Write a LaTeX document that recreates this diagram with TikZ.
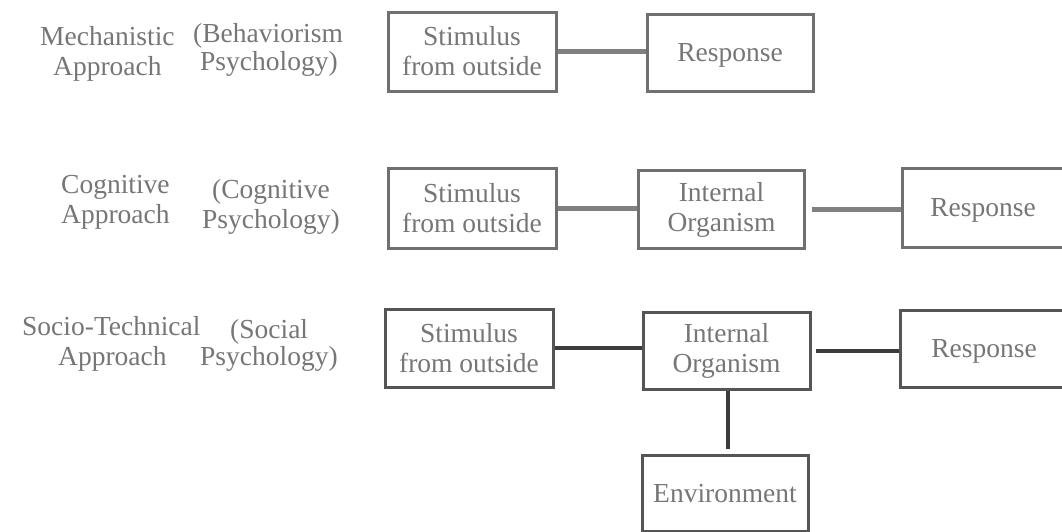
\documentclass[tikz,border=0pt]{standalone}
\usepackage{fontspec}
\setmainfont{Liberation Serif}
\definecolor{txtgray}{RGB}{118,118,118}
\definecolor{boxgray}{RGB}{112,112,112}
\definecolor{linkgray}{RGB}{128,128,128}
\definecolor{boxdark}{RGB}{85,85,85}
\definecolor{linkdark}{RGB}{60,60,60}
\begin{document}
\begin{tikzpicture}[x=1pt,y=-1pt,
  every node/.style={font=\fontsize{27.5}{30}\selectfont, text=txtgray},
  box/.style={draw=boxgray, line width=3pt, inner sep=0pt, align=center},
  darkbox/.style={box, draw=boxdark},
  oneline/.style={text height=18pt, text depth=0pt},
  link/.style={draw=linkgray, line width=5pt},
  darklink/.style={draw=linkdark, line width=4pt},
  lefttext/.style={anchor=base west, inner sep=0pt}]
\useasboundingbox (0,0) rectangle (1062,531);
\clip (0,0) rectangle (1062,531);

% approach and psychology labels
\node[lefttext] (mech)  at (40,45)  {Mechanistic};
\node[lefttext] (mecha) at (53,75)  {Approach};
\node[lefttext] (behav) at (193,42) {(Behaviorism};
\node[lefttext] (behap) at (200,70) {Psychology)};
\node[lefttext] (cogn)  at (61,193) {Cognitive};
\node[lefttext] (cogna) at (61,223) {Approach};
\node[lefttext] (cogp)  at (212,198) {(Cognitive};
\node[lefttext] (cogpp) at (202,228) {Psychology)};
\node[lefttext] (soc)   at (22,335) {Socio-Technical};
\node[lefttext] (soca)  at (58,365) {Approach};
\node[lefttext] (socp)  at (230,338) {(Social};
\node[lefttext] (socpp) at (200,365) {Psychology)};

% mechanistic row
\node[box, minimum width=168pt, minimum height=79pt] (s1) at (472,51.5) {Stimulus\\from outside};
\node[box, oneline, minimum width=166pt, minimum height=77pt] (r1) at (730,52.5) {Response};
\draw[link] (s1.east) -- (s1.east -| r1.west);

% cognitive row
\node[box, minimum width=168pt, minimum height=80pt] (s2) at (472,208) {Stimulus\\from outside};
\node[box, minimum width=166pt, minimum height=78pt] (i2) at (721.5,209.5) {Internal\\Organism};
\node[box, oneline, minimum width=162pt, minimum height=79pt] (r2) at (983,207.5) {Response};
\draw[link] (s2.east) -- (s2.east -| i2.west);
\draw[link, shorten <=6pt] (i2.east) -- (i2.east -| r2.west);

% socio-technical row
\node[darkbox, minimum width=168pt, minimum height=78pt] (s3) at (469,348) {Stimulus\\from outside};
\node[darkbox, minimum width=167pt, minimum height=77pt] (i3) at (726.5,350.5) {Internal\\Organism};
\node[darkbox, oneline, minimum width=168pt, minimum height=77pt] (r3) at (984,348.5) {Response};
\node[darkbox, oneline, minimum width=166pt, minimum height=76pt] (e3) at (725,493) {Environment};
\draw[darklink] (s3.east) -- (s3.east -| i3.west);
\draw[darklink, shorten <=4pt] (i3.east) -- (i3.east -| r3.west);
\draw[darklink, shorten >=5pt] ([xshift=1.5pt]i3.south) -- ([xshift=1.5pt]i3.south |- e3.north);
\end{tikzpicture}
\end{document}
